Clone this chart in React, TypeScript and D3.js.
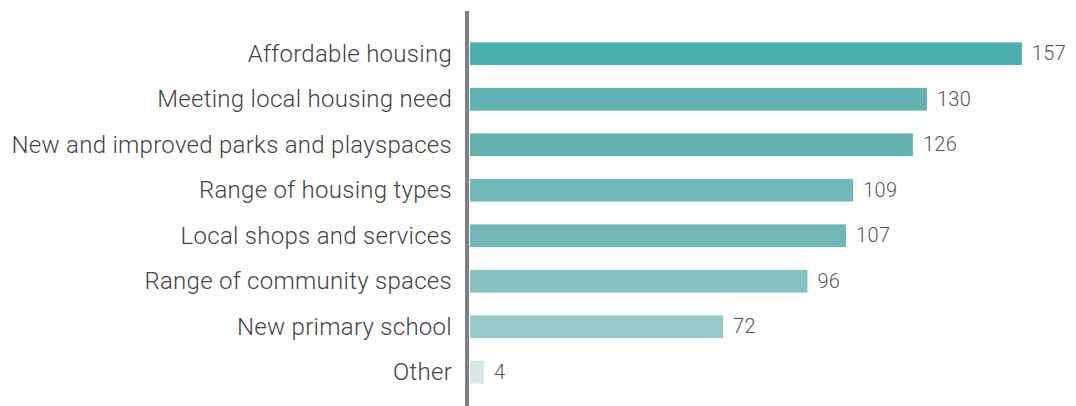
import React from "react";
import * as d3 from "d3";

const categories = [
  "Affordable housing",
  "Meeting local housing need",
  "New and improved parks and playspaces",
  "Range of housing types",
  "Local shops and services",
  "Range of community spaces",
  "New primary school",
  "Other",
];
const values = [157, 130, 126, 109, 107, 96, 72, 4];
const colors = ["#4badad", "#62b2b2", "#62b2b2", "#74b9b9", "#70b8b8", "#86c2c2", "#98c9c9", "#d5e8e8"];

const W = 1076;
const H = 406;
const X0 = 470;

export default function App() {
  const x = d3.scaleLinear().domain([0, 160]).range([X0, X0 + 160 * 3.515]);
  const y = d3
    .scaleBand<string>()
    .domain(categories)
    .range([31, 31 + 8 * 45.5])
    .paddingInner(0.5)
    .paddingOuter(0.25);
  const font = "Roboto, 'Noto Sans', sans-serif";
  return (
    <svg
      width={W}
      height={H}
      style={{ position: "absolute", left: 0, top: 0, display: "block", background: "#fff" }}
    >
      {categories.map((c, i) => {
        const yc = (y(c) as number) + y.bandwidth() / 2;
        return (
          <g key={c}>
            <rect
              x={x(0)}
              y={y(c)}
              width={x(values[i]) - x(0)}
              height={y.bandwidth()}
              fill={colors[i]}
            />
            <text
              x={452}
              y={yc}
              dy="0.34em"
              textAnchor="end"
              fontFamily={font}
              fontWeight={300}
              fontSize={24}
              letterSpacing={0.28}
              fill="#444"
            >
              {c}
            </text>
            <text
              x={x(values[i]) + 10}
              y={yc}
              dy="0.32em"
              fontFamily={font}
              fontWeight={300}
              fontSize={20}
              letterSpacing={0.3}
              fill="#555"
            >
              {values[i]}
            </text>
          </g>
        );
      })}
      <rect x={465} y={11} width={4} height={H - 11} fill="#808080" />
    </svg>
  );
}
